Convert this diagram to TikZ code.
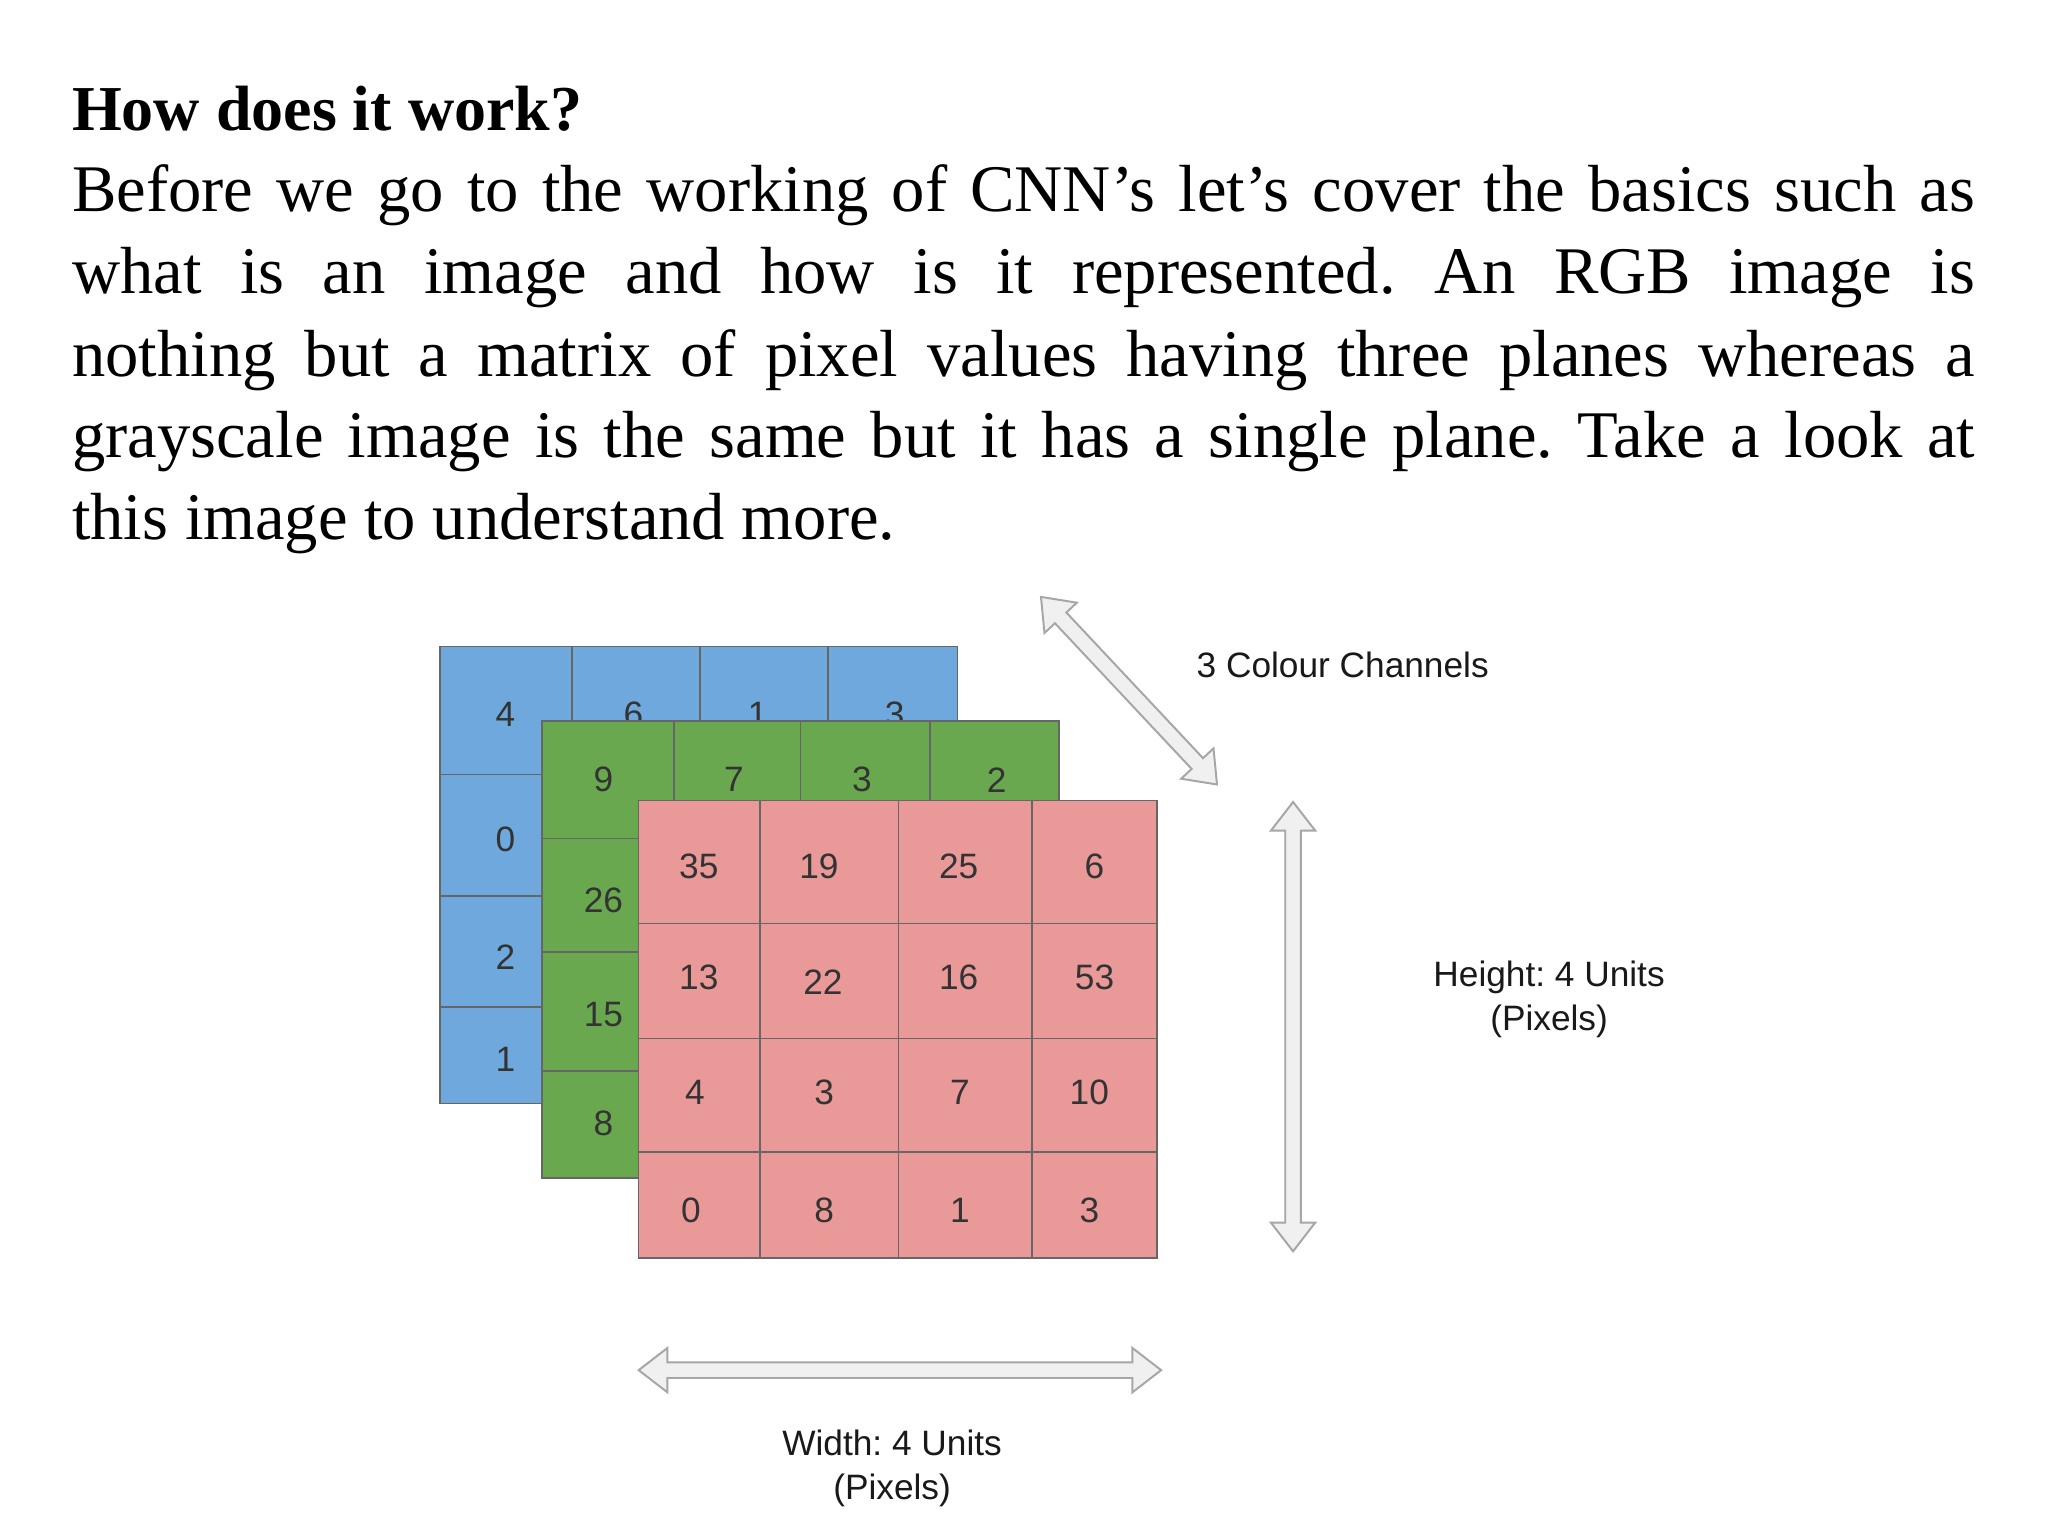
\documentclass[tikz,border=0pt]{standalone}
\usepackage{fontspec}
\setmainfont{Liberation Serif}
\newfontfamily\sans{Liberation Sans}
\frenchspacing
\begin{document}
\begin{tikzpicture}[x=1pt,y=-1pt,
  body/.style={anchor=base west,inner sep=0,font=\fontsize{51}{60}\selectfont},
  cell/.style={draw=gray!80!black,line width=1.2pt},
  num/.style={inner sep=0,font=\sans\fontsize{27}{30}\selectfont,text=black!80},
  lab/.style={inner sep=0,align=center,font=\sans\fontsize{27}{34}\selectfont,text=black!90},
  arr/.style={draw=gray!70,fill=gray!12,line width=1.5pt,line join=miter}]
\useasboundingbox (0,0) rectangle (1568,1176);
\fill[white] (0,0) rectangle (1568,1176);
\node[body,font=\bfseries\fontsize{49}{60}\selectfont] (title) at (55,100) {How does it work?};
\node[body] (l1) at (55,162) {\makebox[1457pt][s]{Before we go to the working of CNN’s let’s cover the basics such as}};
\node[body] (l2) at (55,225) {\makebox[1457pt][s]{what is an image and how is it represented. An RGB image is}};
\node[body] (l3) at (55,288) {\makebox[1457pt][s]{nothing but a matrix of pixel values having three planes whereas a}};
\node[body] (l4) at (55,350) {\makebox[1457pt][s]{grayscale image is the same but it has a single plane. Take a look at}};
\node[body] (l5) at (55,413) {this image to understand more.};
% blue
\fill[cell,fill={rgb,255:red,111;green,168;blue,220}] (337,495) rectangle (733,845);
\foreach \x in {438,536,634} \draw[cell] (\x,495) -- (\x,552);
\foreach \y in {593,686,771} \draw[cell] (337,\y) -- (415,\y);
\node[num] (b1) at (387,547) {4}; \node[num] (b2) at (485,547) {6};
\node[num] (b3) at (580,547) {1}; \node[num] (b4) at (685,547) {3};
\node[num] (b5) at (387,643) {0}; \node[num] (b6) at (387,733) {2};
\node[num] (b7) at (387,811) {1};
% green
\fill[cell,fill={rgb,255:red,106;green,168;blue,79}] (415,552) rectangle (811,902);
\foreach \x in {516,613,712} \draw[cell] (\x,552) -- (\x,613);
\foreach \y in {642,729,820} \draw[cell] (415,\y) -- (489,\y);
\node[num] (g1) at (462,597) {9}; \node[num] (g2) at (562,597) {7};
\node[num] (g3) at (660,597) {3}; \node[num] (g4) at (763,597) {2};
\node[num] (g5) at (462,689) {26}; \node[num] (g6) at (462,777) {15};
\node[num] (g7) at (462,860) {8};
% red
\fill[cell,fill={rgb,255:red,234;green,153;blue,153}] (489,613) rectangle (886,963);
\foreach \x in {582,688,790} \draw[cell] (\x,613) -- (\x,963);
\foreach \y in {707,795,882} \draw[cell] (489,\y) -- (886,\y);
\foreach \v [count=\i] in {35,19,25,6} \node[num] (r1\i) at ({\i==1?535:(\i==2?627:(\i==3?734:838))},663) {\v};
\foreach \v [count=\i] in {13,22,16,53} \node[num] (r2\i) at ({\i==1?535:(\i==2?630:(\i==3?734:838))},{\i==2?752:748}) {\v};
\foreach \v [count=\i] in {4,3,7,10} \node[num] (r3\i) at ({\i==1?532:(\i==2?631:(\i==3?735:834))},836) {\v};
\foreach \v [count=\i] in {0,8,1,3} \node[num] (r4\i) at ({\i==1?529:(\i==2?631:(\i==3?735:834))},927) {\v};
% arrows
\def\dbl#1{\draw[arr] (0,0) -- (22,17) -- (22,6) -- (#1-22,6) -- (#1-22,17) -- (#1,0) -- (#1-22,-17) -- (#1-22,-6) -- (22,-6) -- (22,-17) -- cycle;}
\begin{scope}[shift={(797,457)},x={(0.684pt,-0.729pt)},y={(-0.729pt,-0.684pt)}]\dbl{197}\end{scope}
\begin{scope}[shift={(990,614)},x={(0pt,-1pt)},y={(-1pt,0pt)}]\dbl{344}\end{scope}
\begin{scope}[shift={(489,1049)},x={(1pt,0pt)},y={(0pt,-1pt)}]\dbl{400}\end{scope}
\node[lab] (cc) at (1028,509) {3 Colour Channels};
\node[lab] (hh) at (1186,765) {Height: 4 Units\\(Pixels)};
\node[lab] (ww) at (683,1124) {Width: 4 Units\\(Pixels)};
\end{tikzpicture}
\end{document}
